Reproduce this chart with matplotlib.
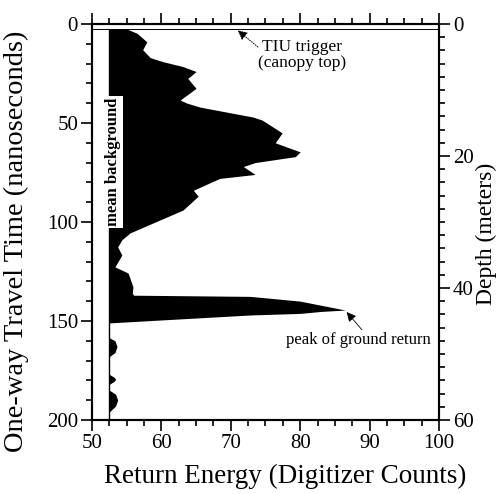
import matplotlib.pyplot as plt
from matplotlib.ticker import MultipleLocator

plt.rcParams['font.family'] = ['Liberation Serif', 'DejaVu Serif']

# waveform: travel time (ns) vs return energy (digitizer counts)
travel_time = [2.5, 4.7, 9, 13, 17, 19, 21.5, 24, 27.5, 32.5, 38.4, 40,
               42, 47, 48.5, 55, 60, 64.6, 67, 70, 72, 76, 78, 84, 87, 94,
               100.5, 105.5, 109, 112.6, 116.7, 122.7, 125.8, 132.8, 136,
               137, 137.6, 140, 144.5, 145.2, 146.2, 147, 149, 151,
               158.5, 160, 163, 166, 168, 177, 178.5, 179.5, 180.5, 182,
               185, 187, 190, 193, 196]
energy = [55, 56.5, 57.9, 57.3, 58.4, 60.2, 63.1, 65, 63.8, 65, 62.7, 63.7,
          65.6, 73.2, 74.5, 77.4, 76.4, 80, 79.3, 73.5, 71.8, 73.5, 68.4,
          64.6, 65.3, 63.1, 58.8, 55.5, 54.3, 53.7, 54.3, 53.3, 55.2, 55.9,
          55.8, 56, 72.8, 80, 86.5, 83, 80, 72.8, 62.6, 52.5,
          52.5, 53.3, 53.6, 53.3, 52.5, 52.5, 53.2, 53.4, 53.2, 52.5,
          52.5, 53.4, 53.7, 53.4, 52.5]

mean_background = 52.5
trigger_time = 2.5

fig = plt.figure(figsize=(4.96, 4.94), dpi=100)
ax = fig.add_axes([0.1855, 0.150, 0.6995, 0.8014])

ax.fill_betweenx(travel_time, mean_background, energy, color='black', lw=0)
ax.plot([mean_background, mean_background], [trigger_time, 200], color='black', lw=1)
ax.axhline(trigger_time, color='black', lw=0.7)

ax.set_xlim(50, 100)
ax.set_ylim(200, 0)
ax.xaxis.set_major_locator(MultipleLocator(10))
ax.xaxis.set_minor_locator(MultipleLocator(2.5))
ax.yaxis.set_major_locator(MultipleLocator(50))
ax.yaxis.set_minor_locator(MultipleLocator(10))
ax.tick_params(which='both', direction='out', top=True, labeltop=False,
               labelsize=15, width=1.2, pad=2)
ax.tick_params(which='major', length=8)
ax.tick_params(which='minor', length=4)
for s in ax.spines.values():
    s.set_linewidth(1.5)

ax.set_xlabel('Return Energy (Digitizer Counts)', fontsize=19.5)
ax.xaxis.set_label_coords(0.556, -0.112)
ax.xaxis.label.set_va('top')
ax.set_ylabel('One-way Travel Time (nanoseconds)', fontsize=20.5)
ax.yaxis.set_label_coords(-0.183, 0.45)

# depth axis on the right
ax2 = ax.twinx()
ax2.set_ylim(60, 0)
ax2.yaxis.set_major_locator(MultipleLocator(20))
ax2.yaxis.set_minor_locator(MultipleLocator(2))
ax2.tick_params(which='both', direction='out', labelsize=15, width=1.2, pad=2)
ax2.tick_params(which='major', length=8)
ax2.tick_params(which='minor', length=4)
ax2.set_ylabel('Depth (meters)', fontsize=17)
ax2.yaxis.set_label_coords(1.105, 0.47)
for s in ax2.spines.values():
    s.set_linewidth(1.5)

ax.text(53.0, 69.7, 'mean background', rotation=90, ha='center', va='center',
        fontsize=12, fontweight='bold',
        bbox=dict(facecolor='white', edgecolor='none', pad=1.5))

ax.text(80.3, 15.9, 'TIU trigger\n(canopy top)', ha='center', va='center',
        fontsize=12.5, linespacing=1.0)
ax.annotate('', xy=(71, 3.2), xytext=(73.9, 11.6),
            arrowprops=dict(arrowstyle='-|>', color='black', lw=0.7,
                            linestyle=(0, (1, 1.5)), shrinkA=0, shrinkB=0,
                            mutation_scale=14))
ax.text(88.4, 159.6, 'peak of ground return', ha='center', va='center',
        fontsize=12)
ax.annotate('', xy=(86.7, 145.5), xytext=(88.9, 154.5),
            arrowprops=dict(arrowstyle='-|>', color='black', lw=0.6,
                            shrinkA=0, shrinkB=0, mutation_scale=14))

fig.savefig('out.png', dpi=100)
